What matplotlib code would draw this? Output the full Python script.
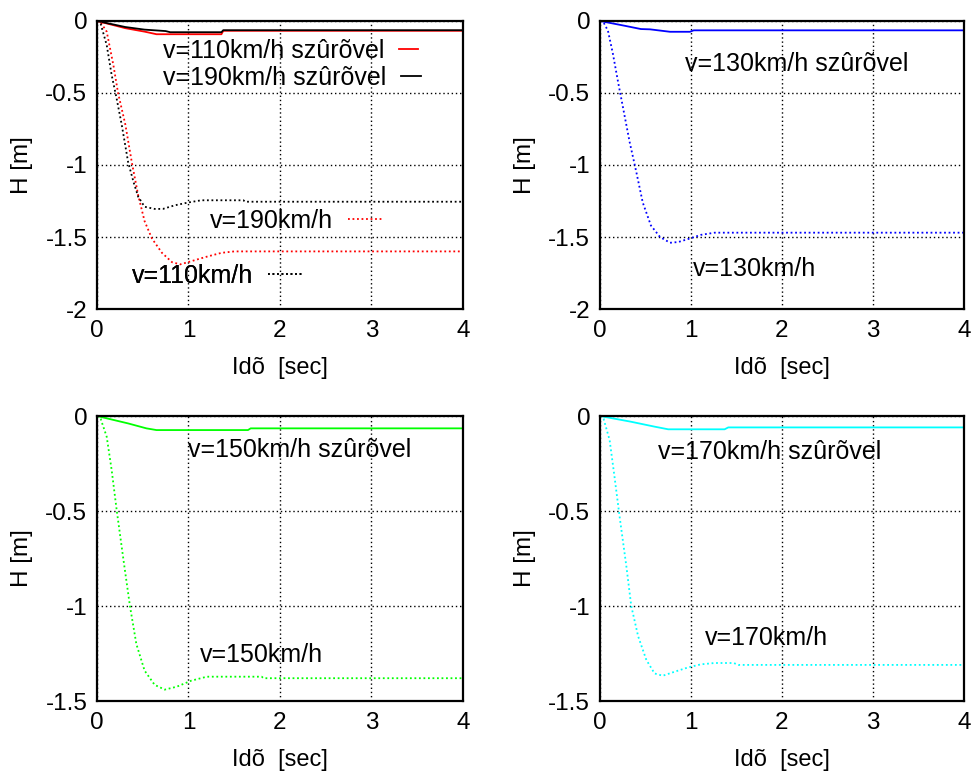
import matplotlib
matplotlib.use("Agg")
import matplotlib.pyplot as plt

plt.rcParams["font.family"] = ["Liberation Sans", "DejaVu Sans"]
plt.rcParams["axes.unicode_minus"] = False

# x ticks / y ticks
x_ticks = [0, 1, 2, 3, 4]
x_tick_labels = ["0", "1", "2", "3", "4"]
y_ticks_top = [0, -0.5, -1, -1.5, -2]
y_tick_labels_top = ["0", "-0.5", "-1", "-1.5", "-2"]
y_ticks_bot = [0, -0.5, -1, -1.5]
y_tick_labels_bot = ["0", "-0.5", "-1", "-1.5"]

# top-left panel
t_110f = [0, 0.31, 0.52, 0.65, 1.36, 1.38, 4.0]
h_110f = [0, -0.05, -0.074, -0.092, -0.092, -0.068, -0.068]
t_190f = [0, 0.31, 0.52, 0.75, 0.80, 1.36, 1.38, 4.0]
h_190f = [0, -0.042, -0.06, -0.07, -0.078, -0.078, -0.064, -0.064]
t_190 = [0, 0.04, 0.106, 0.18, 0.23, 0.31, 0.38, 0.45, 0.52, 0.60, 0.71, 0.82, 0.91,
         1.02, 1.18, 1.36, 1.5, 4.0]
h_190 = [0, -0.01, -0.074, -0.31, -0.50, -0.72, -0.98, -1.21, -1.39, -1.51, -1.61,
         -1.675, -1.69, -1.67, -1.64, -1.61, -1.60, -1.60]
t_110 = [0, 0.04, 0.106, 0.16, 0.215, 0.27, 0.34, 0.40, 0.45, 0.52, 0.63, 0.72, 0.85,
         1.0, 1.14, 1.6, 1.62, 4.0]
h_110 = [0, -0.02, -0.167, -0.375, -0.54, -0.72, -0.98, -1.12, -1.22, -1.29, -1.305,
         -1.305, -1.28, -1.26, -1.245, -1.245, -1.255, -1.255]

# top-right panel
t_130 = [0, 0.04, 0.088, 0.143, 0.198, 0.253, 0.326, 0.40, 0.47, 0.56, 0.66, 0.77,
         0.86, 0.99, 1.11, 1.26, 4.0]
h_130 = [0, -0.01, -0.068, -0.23, -0.42, -0.60, -0.84, -1.05, -1.26, -1.42, -1.50,
         -1.54, -1.535, -1.51, -1.485, -1.47, -1.47]
t_130f = [0, 0.27, 0.45, 0.55, 0.77, 0.99, 1.03, 4.0]
h_130f = [0, -0.033, -0.056, -0.058, -0.075, -0.075, -0.065, -0.065]

# bottom-left panel
t_150 = [0, 0.04, 0.106, 0.16, 0.215, 0.29, 0.36, 0.43, 0.52, 0.63, 0.74, 0.87, 1.03,
         1.20, 1.80, 1.82, 4.0]
h_150 = [0, -0.015, -0.109, -0.284, -0.495, -0.76, -1.0, -1.20, -1.34, -1.415, -1.44,
         -1.425, -1.393, -1.372, -1.372, -1.38, -1.38]
t_150f = [0, 0.34, 0.54, 0.65, 1.65, 1.68, 4.0]
h_150f = [0, -0.039, -0.065, -0.074, -0.074, -0.065, -0.065]

# bottom-right panel
t_170 = [0, 0.04, 0.106, 0.16, 0.216, 0.29, 0.344, 0.42, 0.51, 0.60, 0.69, 0.82, 0.97,
         1.11, 1.26, 1.47, 1.52, 4.0]
h_170 = [0, -0.015, -0.126, -0.32, -0.53, -0.79, -1.0, -1.16, -1.284, -1.355, -1.367,
         -1.346, -1.323, -1.307, -1.30, -1.30, -1.31, -1.31]
t_170f = [0, 0.34, 0.60, 0.75, 1.37, 1.41, 4.0]
h_170f = [0, -0.03, -0.056, -0.07, -0.07, -0.06, -0.06]

DOT = (0, (1, 1.5))
LABEL_FS = 18


def setup(ax, yticks, ylabels):
    ax.set_xlim(0, 4)
    ax.set_ylim(min(yticks), 0)
    ax.set_xticks(x_ticks)
    ax.set_xticklabels(x_tick_labels)
    ax.set_yticks(yticks)
    ax.set_yticklabels(ylabels)
    ax.tick_params(length=0, labelsize=17.5)
    ax.tick_params(axis="x", pad=8)
    ax.tick_params(axis="y", pad=7)
    ax.grid(True, color="black", linestyle=(0, (1, 2)), linewidth=1)
    for s in ax.spines.values():
        s.set_linewidth(1.6)
    ax.set_xlabel("Idõ  [sec]", fontsize=17, labelpad=11)
    ax.set_ylabel("H [m]", fontsize=17.5, labelpad=9)


def key(ax, line, label, x, y, hl):
    leg = ax.legend([line], [label], loc="center left", bbox_to_anchor=(x, y),
                    frameon=False, markerfirst=False, fontsize=LABEL_FS,
                    handlelength=hl, handletextpad=0.6, borderpad=0,
                    borderaxespad=0)
    ax.add_artist(leg)


def note(ax, label, x, y):
    ax.text(x, y, label, transform=ax.transAxes, fontsize=LABEL_FS,
            ha="left", va="center")


fig = plt.figure(figsize=(9.73, 7.77), dpi=100)
ax1 = fig.add_axes([0.0997, 0.6023, 0.3761, 0.3707])
ax2 = fig.add_axes([0.6166, 0.6023, 0.3741, 0.3707])
ax3 = fig.add_axes([0.0997, 0.0978, 0.3761, 0.3668])
ax4 = fig.add_axes([0.6166, 0.0978, 0.3741, 0.3668])

setup(ax1, y_ticks_top, y_tick_labels_top)
setup(ax2, y_ticks_top, y_tick_labels_top)
setup(ax3, y_ticks_bot, y_tick_labels_bot)
setup(ax4, y_ticks_bot, y_tick_labels_bot)

l110f, = ax1.plot(t_110f, h_110f, color="red", lw=1.3)
l190f, = ax1.plot(t_190f, h_190f, color="black", lw=1.3)
l190, = ax1.plot(t_190, h_190, color="red", lw=1.3, linestyle=DOT)
l110, = ax1.plot(t_110, h_110, color="black", lw=1.3, linestyle=DOT)
key(ax1, l110f, "v=110km/h szûrõvel", 0.180, 0.896, 0.75)
key(ax1, l190f, "v=190km/h szûrõvel", 0.180, 0.802, 0.8)
key(ax1, l190, "v=190km/h", 0.309, 0.305, 1.45)
key(ax1, l110, "v=110km/h", 0.096, 0.115, 1.35)

ax2.plot(t_130f, h_130f, color="blue", lw=1.3)
ax2.plot(t_130, h_130, color="blue", lw=1.3, linestyle=DOT)
note(ax2, "v=130km/h szûrõvel", 0.234, 0.850)
note(ax2, "v=130km/h", 0.255, 0.140)

ax3.plot(t_150f, h_150f, color="#00ff00", lw=1.3)
ax3.plot(t_150, h_150, color="#00ff00", lw=1.3, linestyle=DOT)
note(ax3, "v=150km/h szûrõvel", 0.249, 0.881)
note(ax3, "v=150km/h", 0.281, 0.163)

ax4.plot(t_170f, h_170f, color="#00ffff", lw=1.3)
ax4.plot(t_170, h_170, color="#00ffff", lw=1.3, linestyle=DOT)
note(ax4, "v=170km/h szûrõvel", 0.159, 0.874)
note(ax4, "v=170km/h", 0.288, 0.221)

fig.savefig("out.png", dpi=100)
